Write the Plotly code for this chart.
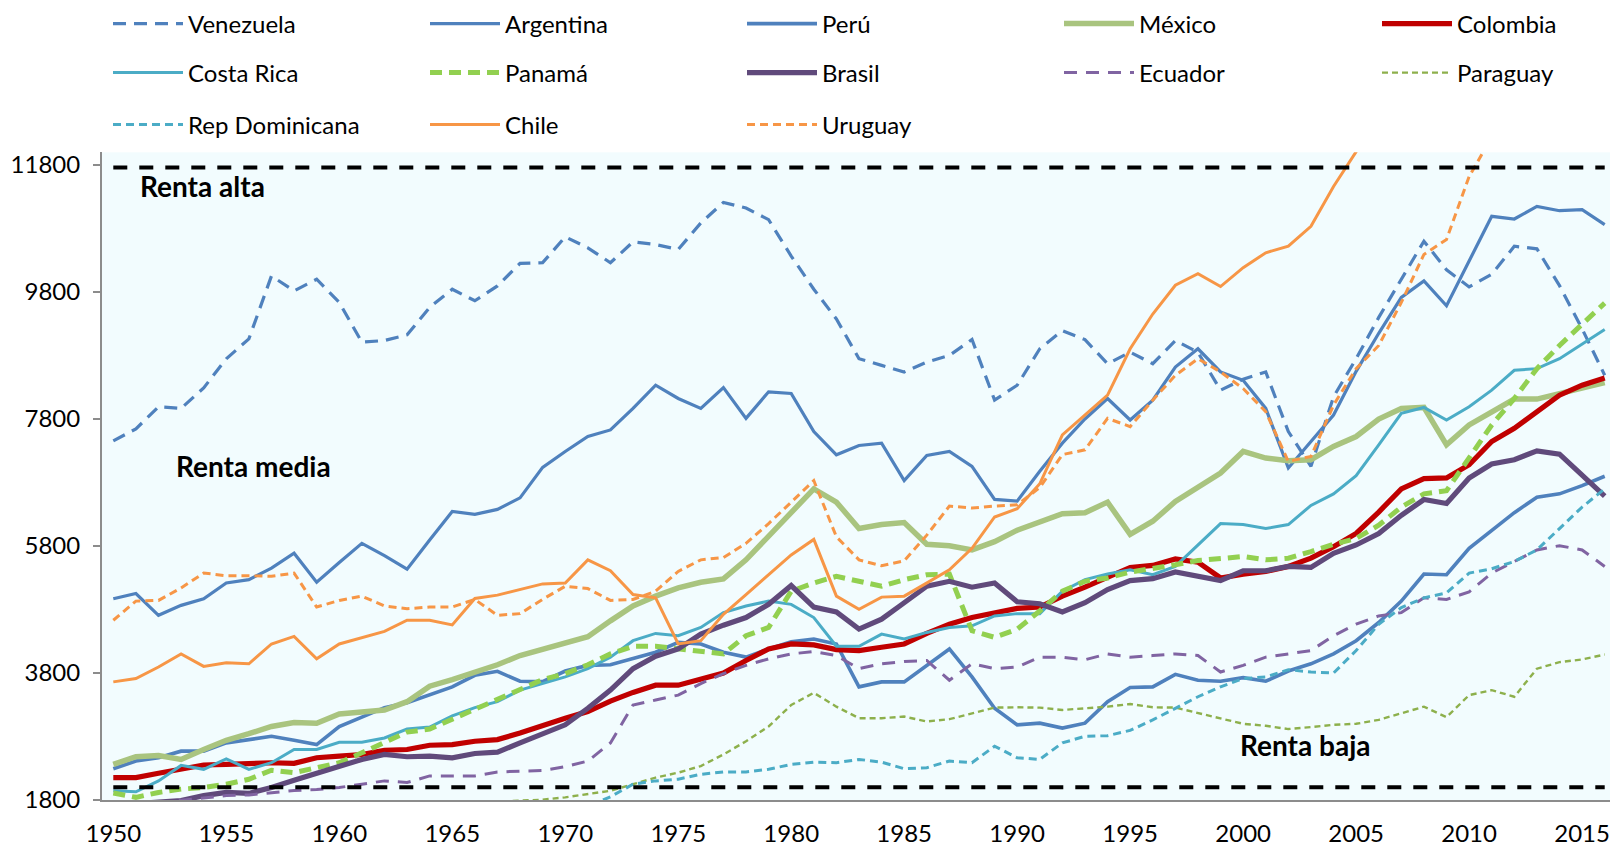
import plotly.graph_objects as go

# ---- data ----
years = list(range(1950, 2017))

venezuela = [7456, 7644, 7993, 7967, 8290, 8749, 9062, 10053, 9818, 10001,
             9636, 9010, 9036, 9125, 9557, 9844, 9662, 9896, 10251, 10262,
             10668, 10496, 10261, 10590, 10548, 10470, 10887, 11211, 11122, 10939,
             10366, 9844, 9375, 8749, 8645, 8541, 8697, 8801, 9052, 8097,
             8332, 8906, 9192, 9050, 8670, 8853, 8671, 9036, 8850, 8254,
             8426, 8541, 7602, 7054, 8150, 8750, 9400, 10000, 10600, 10150,
             9880, 10080, 10520, 10480, 9900, 9220, 8490]
argentina = [4969, 5052, 4709, 4865, 4969, 5218, 5270, 5452, 5686, 5229,
             5540, 5842, 5649, 5436, 5894, 6345, 6299, 6377, 6558, 7039,
             7289, 7524, 7628, 7967, 8332, 8123, 7967, 8295, 7810, 8228,
             8202, 7602, 7237, 7383, 7419, 6830, 7226, 7289, 7054, 6533,
             6507, 6976, 7420, 7800, 8123, 7784, 8097, 8619, 8906, 8541,
             8410, 7967, 7028, 7450, 7862, 8550, 9150, 9714, 9975, 9584,
             10288, 10992, 10950, 11148, 11080, 11096, 10861]
peru = [2293, 2413, 2465, 2569, 2569, 2699, 2751, 2803, 2740, 2673,
        2958, 3114, 3255, 3332, 3452, 3582, 3764, 3826, 3670, 3665,
        3831, 3920, 3930, 4023, 4127, 4283, 4257, 4127, 4050, 4180,
        4290, 4335, 4257, 3582, 3660, 3660, 3920, 4179, 3738, 3244,
        2984, 3010, 2932, 3010, 3348, 3571, 3582, 3779, 3686, 3670,
        3727, 3670, 3831, 3945, 4101, 4309, 4595, 4932, 5358, 5348,
        5764, 6049, 6325, 6569, 6621, 6751, 6898]
mexico = [2361, 2481, 2501, 2439, 2595, 2740, 2844, 2958, 3021, 3010,
          3156, 3177, 3218, 3348, 3592, 3696, 3816, 3930, 4075, 4170,
          4283, 4371, 4621, 4855, 5010, 5140, 5229, 5281, 5582, 5945,
          6309, 6699, 6491, 6075, 6138, 6169, 5826, 5805, 5738, 5868,
          6049, 6190, 6309, 6325, 6491, 5982, 6190, 6501, 6725, 6950,
          7289, 7185, 7143, 7159, 7367, 7524, 7800, 7967, 7982, 7393,
          7706, 7904, 8113, 8113, 8202, 8290, 8374]
colombia = [2153, 2153, 2221, 2293, 2351, 2361, 2377, 2387, 2377, 2465,
            2491, 2517, 2584, 2595, 2662, 2673, 2725, 2751, 2855, 2980,
            3088, 3192, 3358, 3494, 3608, 3608, 3712, 3800, 3997, 4179,
            4257, 4242, 4169, 4153, 4205, 4257, 4423, 4569, 4673, 4740,
            4818, 4839, 5010, 5151, 5296, 5462, 5494, 5597, 5545, 5296,
            5358, 5400, 5478, 5608, 5790, 5997, 6335, 6700, 6861, 6872,
            7080, 7445, 7654, 7925, 8175, 8332, 8447]
costa_rica = [1945, 1930, 2101, 2345, 2283, 2449, 2283, 2387, 2595, 2595,
              2709, 2709, 2777, 2917, 2948, 3125, 3255, 3348, 3530, 3630,
              3738, 3868, 4049, 4309, 4423, 4387, 4517, 4751, 4855, 4932,
              4881, 4673, 4221, 4221, 4413, 4335, 4439, 4517, 4543, 4699,
              4735, 4735, 5088, 5270, 5358, 5426, 5348, 5478, 5816, 6153,
              6138, 6075, 6138, 6439, 6620, 6908, 7393, 7889, 7982, 7784,
              7993, 8254, 8567, 8593, 8749, 8984, 9208]
panama = [1909, 1842, 1919, 1971, 1997, 2049, 2127, 2268, 2231, 2309,
          2387, 2543, 2699, 2870, 2917, 3073, 3218, 3374, 3545, 3696,
          3790, 3930, 4101, 4221, 4221, 4179, 4153, 4101, 4387, 4517,
          5088, 5218, 5322, 5244, 5166, 5270, 5348, 5358, 4465, 4361,
          4491, 4777, 5088, 5244, 5296, 5390, 5442, 5504, 5571, 5608,
          5634, 5582, 5608, 5712, 5826, 5919, 6127, 6413, 6621, 6670,
          7185, 7706, 8123, 8593, 8958, 9297, 9625]
brasil = [1720, 1745, 1770, 1790, 1868, 1919, 1904, 1997, 2112, 2221,
          2335, 2439, 2517, 2481, 2491, 2465, 2532, 2553, 2699, 2840,
          2984, 3244, 3530, 3868, 4065, 4179, 4413, 4553, 4673, 4881,
          5177, 4839, 4761, 4491, 4647, 4906, 5166, 5244, 5151, 5218,
          4922, 4891, 4761, 4906, 5114, 5255, 5286, 5390, 5322, 5255,
          5410, 5410, 5478, 5462, 5686, 5816, 5997, 6283, 6532, 6470,
          6872, 7091, 7159, 7299, 7247, 6924, 6585]
ecuador = [1680, 1720, 1760, 1790, 1830, 1870, 1880, 1920, 1950, 1965,
           1997, 2049, 2101, 2075, 2179, 2179, 2179, 2242, 2257, 2265,
           2325, 2413, 2699, 3296, 3374, 3452, 3634, 3790, 3920, 4023,
           4101, 4138, 4075, 3868, 3945, 3982, 3997, 3686, 3945, 3868,
           3894, 4049, 4049, 4008, 4101, 4049, 4075, 4101, 4075, 3816,
           3920, 4049, 4101, 4153, 4387, 4569, 4699, 4751, 4984, 4958,
           5078, 5374, 5556, 5738, 5805, 5738, 5478]
paraguay = [1480, 1470, 1490, 1500, 1510, 1530, 1540, 1560, 1580, 1590,
            1600, 1620, 1640, 1660, 1690, 1720, 1750, 1775, 1790, 1805,
            1842, 1894, 1945, 2049, 2153, 2231, 2335, 2517, 2725, 2958,
            3296, 3488, 3270, 3088, 3088, 3114, 3036, 3073, 3166, 3255,
            3260, 3255, 3218, 3244, 3270, 3312, 3260, 3255, 3166, 3088,
            3000, 2969, 2917, 2948, 2984, 3000, 3062, 3166, 3270, 3104,
            3452, 3530, 3426, 3868, 3971, 4013, 4091]
rep_dominicana = [1250, 1240, 1280, 1300, 1320, 1340, 1360, 1380, 1400, 1410,
                  1420, 1380, 1440, 1480, 1510, 1420, 1480, 1510, 1540, 1600,
                  1640, 1700, 1850, 2049, 2101, 2127, 2205, 2242, 2242, 2283,
                  2361, 2397, 2387, 2439, 2397, 2293, 2309, 2413, 2387, 2647,
                  2465, 2439, 2699, 2803, 2813, 2896, 3062, 3244, 3426, 3582,
                  3712, 3738, 3852, 3816, 3800, 4153, 4569, 4829, 4984, 5062,
                  5374, 5442, 5556, 5738, 6075, 6413, 6699]
chile = [3660, 3712, 3894, 4101, 3904, 3961, 3945, 4257, 4377, 4023,
         4257, 4351, 4455, 4631, 4631, 4558, 4974, 5026, 5114, 5203,
         5218, 5582, 5410, 5036, 4984, 4257, 4309, 4725, 5036, 5348,
         5660, 5904, 5010, 4803, 4995, 5010, 5218, 5426, 5764, 6257,
         6387, 6780, 7550, 7863, 8175, 8906, 9453, 9907, 10089, 9886,
         10183, 10418, 10522, 10835, 11461, 12009, 12700, 13300, 13800, 13600,
         14300, 15000, 15500, 15800, 15900, 16000, 16100]
uruguay = [4631, 4932, 4943, 5140, 5374, 5332, 5332, 5322, 5374, 4839,
           4943, 5010, 4855, 4813, 4839, 4839, 4958, 4709, 4735, 4960,
           5166, 5130, 4943, 4958, 5088, 5400, 5582, 5618, 5842, 6153,
           6491, 6830, 5945, 5582, 5488, 5566, 5971, 6429, 6397, 6429,
           6449, 6720, 7240, 7315, 7810, 7680, 8097, 8488, 8749, 8541,
           8280, 7915, 7132, 7211, 8019, 8593, 8958, 9636, 10392, 10627,
           11617, 12243, 12700, 13100, 13300, 13400, 13600]

renta_alta = 11760
renta_baja = 2000
y_ticks = [1800, 3800, 5800, 7800, 9800, 11800]
x_ticks = list(range(1950, 2016, 5))

# page has an 8px body margin, so the figure is drawn 8px smaller
W, H = 1610, 841

FONT = "Lato, 'Open Sans', sans-serif"
BLUE = "#4F81BD"
CYAN = "#4BACC6"
ORANGE = "#F79646"

# name, values, color, width, dash, legend box
series = [
    ("Venezuela", venezuela, BLUE, 3.2, "13px,8px", "legend"),
    ("Argentina", argentina, BLUE, 3.2, "solid", "legend"),
    ("Perú", peru, BLUE, 3.6, "solid", "legend"),
    ("México", mexico, "#A9C47F", 5.5, "solid", "legend"),
    ("Colombia", colombia, "#C00000", 5.2, "solid", "legend4"),
    ("Costa Rica", costa_rica, CYAN, 3.0, "solid", "legend2"),
    ("Panamá", panama, "#92D050", 5.0, "12px,7px", "legend2"),
    ("Brasil", brasil, "#604A7B", 5.2, "solid", "legend2"),
    ("Ecuador", ecuador, "#8064A2", 3.0, "13px,9px", "legend2"),
    ("Paraguay", paraguay, "#8DB04C", 2.4, "6px,4px", "legend5"),
    ("Rep Dominicana", rep_dominicana, CYAN, 3.0, "8px,5px", "legend3"),
    ("Chile", chile, ORANGE, 3.0, "solid", "legend3"),
    ("Uruguay", uruguay, ORANGE, 3.0, "8px,5px", "legend3"),
]

fig = go.Figure()
for name, vals, color, width, dash, leg in series:
    fig.add_trace(go.Scatter(
        x=years, y=vals, name=name, mode="lines",
        line=dict(color=color, width=width, dash=dash),
        legend=leg,
        hovertemplate=name + " %{x}: %{y}<extra></extra>",
    ))

# income thresholds
for level in (renta_alta, renta_baja):
    fig.add_trace(go.Scatter(
        x=years, y=[level] * len(years), mode="lines",
        line=dict(color="black", width=4, dash="14px,12px"),
        showlegend=False, hoverinfo="skip",
    ))

labels = [("Renta alta", 1951.11, 11474), ("Renta media", 1952.69, 7059),
          ("Renta baja", 1999.79, 2659)]
for text, xx, yy in labels:
    fig.add_annotation(x=xx, y=yy, text="<b>" + text + "</b>", showarrow=False,
                       xanchor="left", yanchor="middle",
                       font=dict(family=FONT, size=28, color="black"))


def legend_box(x_px, y_px):
    return dict(orientation="h", xref="container", yref="container",
                xanchor="left", yanchor="middle", x=x_px / W, y=1 - y_px / H,
                itemwidth=70, entrywidth=232, entrywidthmode="pixels",
                font=dict(family=FONT, size=24, color="black"),
                bgcolor="rgba(0,0,0,0)")


fig.update_layout(
    width=W, height=H,
    margin=dict(l=94, r=2, t=141, b=47),
    paper_bgcolor="white",
    plot_bgcolor="#F2FCFE",
    font=dict(family=FONT, size=24, color="black"),
    legend=legend_box(100, 16),
    legend2=legend_box(100, 65),
    legend3=legend_box(100, 117),
    legend4=legend_box(1369, 16),
    legend5=legend_box(1369, 65),
    xaxis=dict(
        range=[1949.5, 2016.5], tickvals=x_ticks, showgrid=False, zeroline=False,
        showline=True, linecolor="#8C8C8C", linewidth=2, ticks="",
        ticklabelstandoff=11, tickfont=dict(family=FONT, size=24, color="black"),
    ),
    yaxis=dict(
        range=[1800, 12000], tickvals=y_ticks, ticktext=[str(v) for v in y_ticks],
        showgrid=False, zeroline=False,
        showline=True, linecolor="#8C8C8C", linewidth=2, ticks="outside",
        ticklen=7, tickcolor="#8C8C8C", tickwidth=2, ticklabelstandoff=8,
        tickfont=dict(family=FONT, size=24, color="black"),
    ),
    showlegend=True,
)

fig.write_html("out.html")
